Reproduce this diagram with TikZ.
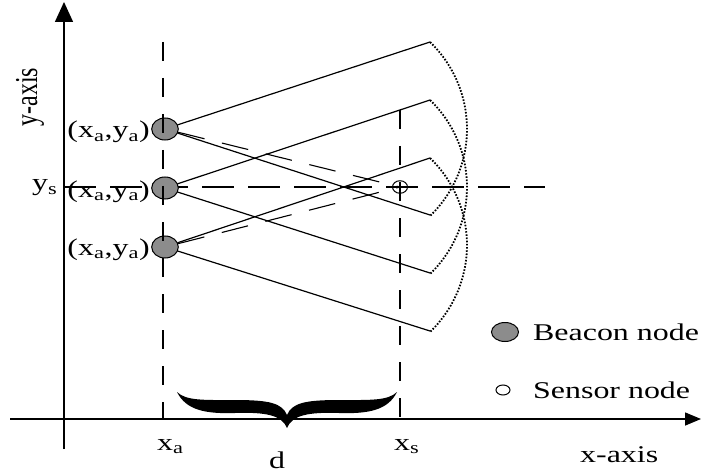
\documentclass[tikz,border=0pt]{standalone}
\usepackage{fontspec}
\setmainfont{Liberation Serif}
\usepackage{graphicx}
\usetikzlibrary{shapes.geometric,arrows.meta}
\newcommand{\hs}[1]{\scalebox{1.33}[1]{#1}}
\begin{document}
\begin{tikzpicture}[x=1pt,y=-1pt,
  lbl/.style={inner sep=0pt, font=\fontsize{24}{28}\selectfont},
  solidline/.style={line width=1.2pt},
  axisline/.style={line width=1.5pt},
  vdash/.style={line width=1.3pt, dash pattern=on 19pt off 17pt},
  hdash/.style={line width=1.2pt, dash pattern=on 32pt off 14pt},
  sdash/.style={line width=1.1pt, dash pattern=on 27pt off 18pt},
  arcdot/.style={line width=1.8pt, dash pattern=on 1.6pt off 1.6pt},
  beacon/.style={draw, ellipse, line width=1pt, fill=black!45, inner sep=0pt},
  sensor/.style={draw, ellipse, line width=1pt, inner sep=0pt},
]
\useasboundingbox (0,0) rectangle (701,473);

% axes
\coordinate (yb) at (64,449);
\coordinate (yt) at (64,2);
\coordinate (xl) at (10,419);
\coordinate (xr) at (701,419);
\draw[axisline,-{Triangle[length=20pt,width=18pt]}] (yb) -- (yt);
\draw[axisline,-{Triangle[length=16pt,width=13pt]}] (xl) -- (xr);

% end points of the beams
\coordinate (E1u) at (430,42);
\coordinate (E1d) at (430,215);
\coordinate (E2u) at (430,100);
\coordinate (E2d) at (430,273);
\coordinate (E3u) at (430,158);
\coordinate (E3d) at (430,331);

% horizontal dashed line
\coordinate (hl) at (64,187);
\coordinate (hr) at (545,187);
\draw[hdash] (hl) -- (hr);

% beacons and sensor
\node[beacon, minimum width=26.6pt, minimum height=22pt] (b1) at (165,129) {};
\node[beacon, minimum width=26.6pt, minimum height=22pt] (b2) at (165,188) {};
\node[beacon, minimum width=26.6pt, minimum height=22pt] (b3) at (165,247) {};
\node[sensor, minimum width=15pt, minimum height=12.5pt] (s) at (400,187) {};

% beams
\draw[solidline] (b1) -- (E1u);
\draw[solidline] (b1) -- (E1d);
\draw[solidline] (b2) -- (E2u);
\draw[solidline] (b2) -- (E2d);
\draw[solidline] (b3) -- (E3u);
\draw[solidline] (b3) -- (E3d);

% dotted arcs
\draw[arcdot] (E1u) arc[start angle=-46.07, end angle=46.07, radius=120.8];
\draw[arcdot] (E2u) arc[start angle=-46.07, end angle=46.07, radius=120.8];
\draw[arcdot] (E3u) arc[start angle=-46.07, end angle=46.07, radius=120.8];

% dashed lines to sensor
\draw[sdash] (b1) -- (s.center);
\draw[sdash] (b3) -- (s.center);

% vertical dashed lines
\coordinate (va) at (163,42);
\coordinate (vb) at (163,419);
\coordinate (sa) at (400,110);
\coordinate (sb) at (400,419);
\draw[vdash] (va) -- (vb);
\draw[vdash] (sa) -- (sb);

% brace
\fill (177,392) .. controls (186,410) and (205,414) .. (235,413)
  .. controls (265,412) and (282,415) .. (287,428)
  .. controls (292,415) and (309,412) .. (339,413)
  .. controls (369,414) and (388,410) .. (397,392)
  .. controls (388,401) and (369,400) .. (339,400)
  .. controls (305,400) and (292,403) .. (287,415)
  .. controls (282,403) and (269,400) .. (235,400)
  .. controls (205,400) and (186,401) .. (177,392) -- cycle;

% labels
\node[lbl, anchor=base east] (l1) at (150,138) {\hs{(x\textsubscript{a},y\textsubscript{a})}};
\node[lbl, anchor=base east] (l2) at (150,197) {\hs{(x\textsubscript{a},y\textsubscript{a})}};
\node[lbl, anchor=base east] (l3) at (150,255) {\hs{(x\textsubscript{a},y\textsubscript{a})}};
\node[lbl, anchor=base west] (ys) at (32,191) {\hs{y\textsubscript{s}}};
\node[lbl, anchor=base west] (xa) at (157,450) {\hs{x\textsubscript{a}}};
\node[lbl, anchor=base west] (xs) at (394,450) {\hs{x\textsubscript{s}}};
\node[lbl, anchor=base] (d) at (277,468) {\hs{d}};
\node[lbl, anchor=base west] (xax) at (580,462) {\hs{x-axis}};
\node[lbl, rotate=90] (yax) at (30,97) {\scalebox{1}[1.33]{y-axis}};

% legend
\node[beacon, minimum width=27pt, minimum height=19pt] (lb) at (505,332) {};
\node[sensor, minimum width=14pt, minimum height=10pt] (ls) at (503,390) {};
\node[lbl, anchor=base west] (tb) at (533,340) {\hs{Beacon node}};
\node[lbl, anchor=base west] (ts) at (533,398) {\hs{Sensor node}};
\end{tikzpicture}
\end{document}
